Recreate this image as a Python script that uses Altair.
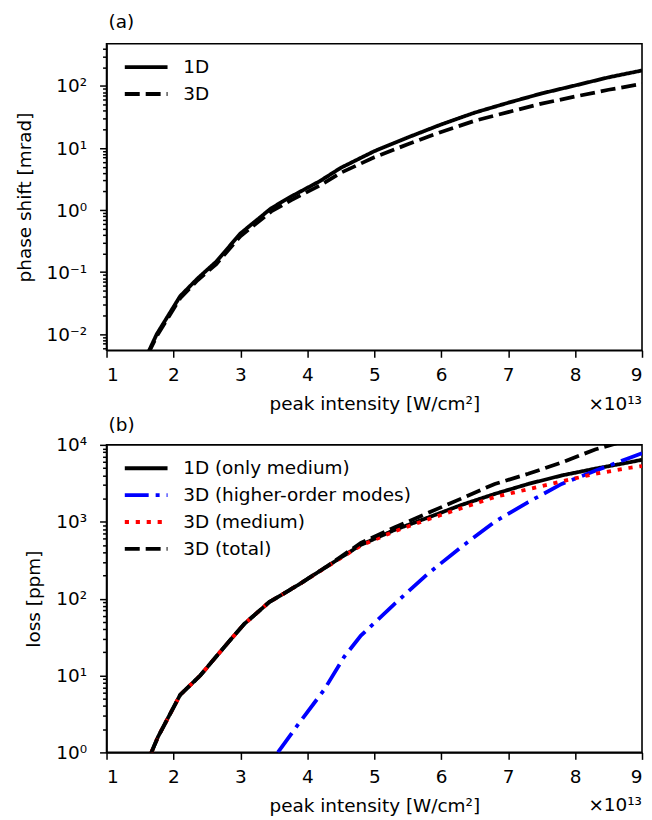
import altair as alt
import pandas as pd

# ---------------- data (x in units of 1e13 W/cm^2) ----------------
# Panel (a): phase shift [mrad]
a_x = [1.62, 1.75, 2.10, 2.36, 2.64, 3.00, 3.46, 3.76, 4.18, 4.50, 5.00, 5.50, 6.00, 6.50, 7.00, 7.50, 8.00, 8.50, 9.00]
a_1d = [0.005, 0.010, 0.041, 0.079, 0.148, 0.42, 1.07, 1.66, 2.9, 4.8, 8.9, 14.8, 24, 37.2, 53.7, 75.9, 102, 138, 178]
a_3d = [0.0048, 0.0093, 0.038, 0.074, 0.135, 0.38, 0.95, 1.45, 2.47, 4.0, 7.1, 11.5, 18.2, 27.5, 38, 52, 67.6, 87, 108]
a_names = ["1D", "3D"]

# Panel (b): loss [ppm]
b_x = [1.67, 1.77, 2.10, 2.40, 2.75, 3.06, 3.43, 3.86, 4.30, 4.80, 5.30, 5.80, 6.30, 6.80, 7.30, 7.80, 8.30, 8.80, 9.00]
loss_1d = [1.0, 1.6, 5.6, 10, 23, 47, 90, 150, 265, 500, 780, 1130, 1650, 2300, 3100, 4000, 4900, 5900, 6400]
loss_med = [1.0, 1.6, 5.6, 10, 23, 47, 90, 150, 262, 490, 750, 1070, 1500, 2100, 2650, 3350, 4200, 5000, 5300]
loss_tot = [1.0, 1.6, 5.6, 10, 23, 47, 90, 150, 265, 530, 840, 1300, 2000, 3100, 4200, 5900, 8700, 11600, 13100]
hom_x = [3.56, 3.86, 4.25, 4.55, 4.80, 5.30, 5.80, 6.30, 6.80, 7.30, 7.80, 8.30, 8.80, 9.00]
loss_hom = [1.0, 2.3, 6.5, 17.5, 33, 85, 210, 470, 1000, 1800, 3100, 4600, 6700, 7800]
b_names = ["1D (only medium)", "3D (higher-order modes)", "3D (medium)", "3D (total)"]
b_colors = ["#000000", "#0000ff", "#ff0000", "#000000"]

x_ticks = [1, 2, 3, 4, 5, 6, 7, 8, 9]

dfa = pd.DataFrame({
    "x": a_x + a_x,
    "y": a_1d + a_3d,
    "series": [a_names[0]] * len(a_x) + [a_names[1]] * len(a_x),
})
dfb = pd.DataFrame({
    "x": b_x + hom_x + b_x + b_x,
    "y": loss_1d + loss_hom + loss_med + loss_tot,
    "series": [b_names[0]] * len(b_x) + [b_names[1]] * len(hom_x)
              + [b_names[2]] * len(b_x) + [b_names[3]] * len(b_x),
})

FONT = "DejaVu Sans"
FS = 18.5
W, H = 538, 308


def log_ticks(lo, hi):
    out = []
    for e in range(-3, 6):
        for m in range(1, 10):
            v = float(f"{m}e{e}")
            if lo <= v <= hi:
                out.append(v)
    return out


E = "round(log(datum.value)/LN10)"
MAJOR = f"abs(log(datum.value)/LN10 - {E}) < 0.001"
sup = {-2: "10⁻²", -1: "10⁻¹", 0: "10⁰", 1: "10¹", 2: "10²", 3: "10³", 4: "10⁴"}
lab = "''"
for k, s in sup.items():
    lab = f"({E} == {k}) ? '{s}' : ({lab})"
LABEL_EXPR = f"({MAJOR}) ? ({lab}) : ''"


def y_axis(title, lo, hi):
    return alt.Axis(
        title=title, values=log_ticks(lo, hi), labelExpr=LABEL_EXPR,
        tickSize={"condition": {"test": MAJOR, "value": 7}, "value": 4},
        labelPadding=13, titlePadding=12, grid=False,
    )


x_axis = alt.Axis(title="peak intensity [W/cm²]", values=x_ticks, format="d",
                  tickSize=7, labelPadding=8, titlePadding=11, grid=False)
x_scale = alt.Scale(domain=[1, 9], nice=False, zero=False)

SYM = "M-1,0H5"
SYM_SIZE = 205


def legend(stroke_color=None):
    kw = dict(title=None, orient="none", legendX=16, legendY=14,
              symbolType=SYM, symbolSize=SYM_SIZE, symbolStrokeWidth=3.8,
              labelFontSize=FS, labelFont=FONT, labelOffset=42,
              rowPadding=8, labelLimit=400)
    if stroke_color:
        kw["symbolStrokeColor"] = stroke_color
    return alt.Legend(**kw)


def offset_text():
    return alt.Chart(pd.DataFrame({"t": ["×10¹³"]})).mark_text(
        align="right", baseline="alphabetic", fontSize=FS, font=FONT, color="black"
    ).encode(x=alt.value(W), y=alt.value(H + 60), text="t:N")


# ---------------- panel (a) ----------------
ya_lo, ya_hi = 0.0055, 480
lines_a = alt.Chart(dfa).mark_line(strokeWidth=3.8, clip=True, color="black").encode(
    x=alt.X("x:Q", scale=x_scale, axis=x_axis),
    y=alt.Y("y:Q", scale=alt.Scale(type="log", domain=[ya_lo, ya_hi], nice=False),
            axis=y_axis("phase shift [mrad]", ya_lo, ya_hi)),
    strokeDash=alt.StrokeDash("series:N",
                              scale=alt.Scale(domain=a_names, range=[[1, 0], [15, 6]]),
                              legend=legend("black")),
)
panel_a = alt.layer(lines_a, offset_text()).properties(
    width=W, height=H,
    title=alt.TitleParams("(a)", anchor="start", frame="group", fontSize=FS,
                          fontWeight="normal", font=FONT, offset=12, dx=2),
)

# ---------------- panel (b) ----------------
yb_lo, yb_hi = 1, 10000
lines_b = alt.Chart(dfb).mark_line(strokeWidth=3.8, clip=True).encode(
    x=alt.X("x:Q", scale=x_scale, axis=x_axis),
    y=alt.Y("y:Q", scale=alt.Scale(type="log", domain=[yb_lo, yb_hi], nice=False),
            axis=y_axis("loss [ppm]", yb_lo, yb_hi)),
    color=alt.Color("series:N", scale=alt.Scale(domain=b_names, range=b_colors), legend=legend()),
    strokeDash=alt.StrokeDash("series:N",
                              scale=alt.Scale(domain=b_names,
                                              range=[[1, 0], [24, 7, 4, 7], [4.2, 6.8], [15, 6]]),
                              legend=legend()),
)
panel_b = alt.layer(lines_b, offset_text()).properties(
    width=W, height=H + 1,
    title=alt.TitleParams("(b)", anchor="start", frame="group", fontSize=FS,
                          fontWeight="normal", font=FONT, offset=1, dx=2),
)

chart = alt.vconcat(panel_a, panel_b, spacing=0).resolve_scale(
    color="independent", strokeDash="independent", y="independent"
).resolve_legend(
    color="independent", strokeDash="independent"
).configure(
    padding={"left": 6, "top": 2, "right": 0, "bottom": 0},
    font=FONT,
).configure_view(stroke="black", strokeWidth=1.6).configure_axis(
    labelFont=FONT, labelFontSize=FS, titleFont=FONT, titleFontSize=FS,
    titleFontWeight="normal", labelColor="black", titleColor="black",
    domainColor="black", domainWidth=1.6, tickColor="black", tickWidth=1.5,
)

chart.save("out.html", embed_options={"renderer": "svg", "actions": False})
